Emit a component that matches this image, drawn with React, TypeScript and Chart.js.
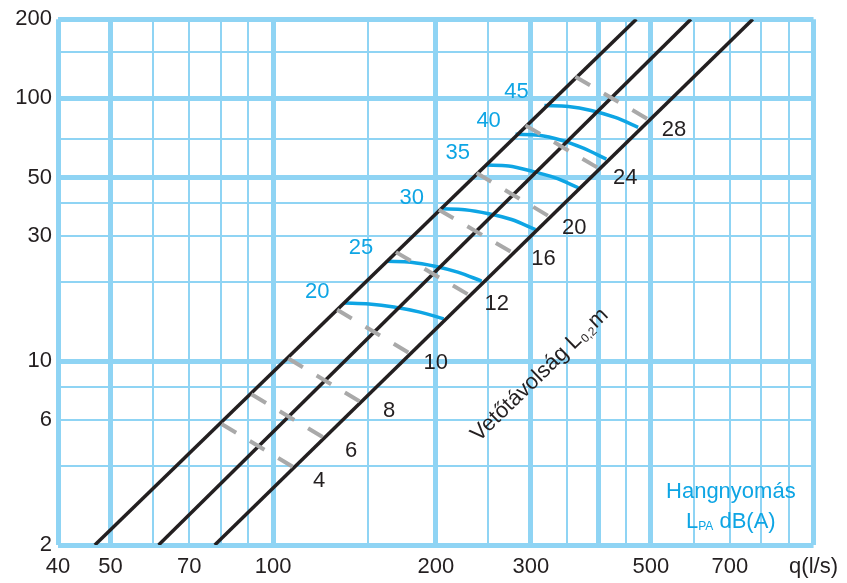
import React, { useEffect, useRef } from 'react';
import { Chart, registerables } from 'chart.js';
Chart.register(...registerables);

const FONT = "'Liberation Sans', Arial, Helvetica, sans-serif";
const TXT = '#231f20';
const BLUE = '#0ea5e4';
const GRID = '#8fd4f4';
const GRAY = '#a9a9a9';

// axes
const X_TICKS = [40, 50, 60, 70, 80, 90, 100, 150, 200, 250, 300, 350, 400, 450, 500, 600, 700, 800, 900, 1000];
const X_LABELS: Record<number, string> = { 40: '40', 50: '50', 70: '70', 100: '100', 200: '200', 300: '300', 500: '500', 700: '700', 1000: 'q(l/s)' };
const X_MAJOR = [40, 50, 100, 200, 300, 400, 500, 1000];
const Y_TICKS = [2, 4, 6, 8, 10, 20, 30, 40, 50, 70, 100, 150, 200];
const Y_LABELS = [2, 6, 10, 30, 50, 100, 200];
const Y_MAJOR = [2, 10, 50, 100, 200];

// black boundary lines (q, v) endpoints
const LINE_A = [{ x: 46.8, y: 2 }, { x: 470, y: 200 }];
const LINE_B = [{ x: 61.4, y: 2 }, { x: 593, y: 200 }];
const LINE_C = [{ x: 78, y: 2 }, { x: 772, y: 200 }];

// throw distance (gray dashed) lines
const DIST_LABELS = ['4', '6', '8', '10', '12', '16', '20', '24', '28'];
const DIST_START_Q = [80.3, 91.2, 106.7, 131.4, 168.8, 202.6, 238.0, 293.1, 362.5];
const DIST_START_V = [5.77, 7.49, 10.24, 15.7, 26.0, 37.7, 52.0, 78.9, 120.8];
const DIST_END_Q = [109.4, 124.3, 145.4, 179.1, 230.1, 276.2, 324.6, 399.6, 494.4];
const DIST_END_V = [3.94, 5.11, 6.99, 10.7, 17.9, 26.0, 35.5, 54.3, 83.2];
const DIST_LABEL_Q = [121.7, 139.4, 163.9, 200, 259.2, 316.4, 360.9, 448.1, 551.9];
const DIST_LABEL_V = [3.52, 4.57, 6.46, 9.81, 16.5, 24.4, 32.0, 49.8, 75.6];

// sound pressure arcs
const SPL_LABELS = ['20', '25', '30', '35', '40', '45'];
const ARC_20 = [[135.3, 16.67], [150.5, 16.52], [167.3, 16.09], [186.1, 15.41], [206.9, 14.5]];
const ARC_25 = [[162.4, 24.0], [179.9, 23.8], [199.2, 22.98], [219.6, 21.82], [243.2, 20.18]];
const ARC_30 = [[204.3, 38.0], [226.2, 37.7], [250.6, 36.4], [276.2, 34.6], [305.8, 31.7]];
const ARC_35 = [[247.3, 55.8], [272.7, 55.3], [300.7, 52.9], [332.9, 49.8], [367.1, 45.7]];
const ARC_40 = [[280.9, 73.0], [309.8, 72.4], [341.5, 69.3], [375.0, 64.6], [413.6, 58.7]];
const ARC_45 = [[317.7, 93.9], [351.8, 93.1], [387.9, 89.9], [429.6, 84.6], [473.6, 77.6]];
const SPL_LABEL_Q = [120.7, 145.4, 180.6, 219.6, 250.5, 282.1];
const SPL_LABEL_V = [18.3, 26.9, 41.9, 61.9, 81.7, 106.1];

// free texts anchors
const AXIS_TITLE_Q = 309.8;
const AXIS_TITLE_V = 8.99;
const LEGEND_Q = 703;
const LEGEND_V1 = 3.17;
const LEGEND_V2 = 2.49;

const ARCS = [ARC_20, ARC_25, ARC_30, ARC_35, ARC_40, ARC_45];

const textPlugin = {
  id: 'texts',
  afterDatasetsDraw(chart: any) {
    const { ctx } = chart;
    const xs = chart.scales.x;
    const ys = chart.scales.y;
    ctx.save();
    ctx.textAlign = 'center';
    ctx.textBaseline = 'middle';
    ctx.font = `22px ${FONT}`;
    ctx.fillStyle = TXT;
    DIST_LABELS.forEach((t, i) => {
      ctx.fillText(t, xs.getPixelForValue(DIST_LABEL_Q[i]), ys.getPixelForValue(DIST_LABEL_V[i]));
    });
    ctx.fillStyle = BLUE;
    SPL_LABELS.forEach((t, i) => {
      ctx.fillText(t, xs.getPixelForValue(SPL_LABEL_Q[i]), ys.getPixelForValue(SPL_LABEL_V[i]));
    });

    // rotated axis title
    const cx = xs.getPixelForValue(AXIS_TITLE_Q);
    const cy = ys.getPixelForValue(AXIS_TITLE_V);
    ctx.save();
    ctx.translate(cx, cy);
    ctx.rotate(-44 * Math.PI / 180);
    ctx.fillStyle = TXT;
    ctx.textAlign = 'left';
    ctx.textBaseline = 'alphabetic';
    const big = `22px ${FONT}`;
    const small = `12px ${FONT}`;
    const p1 = 'Vetőtávolság L';
    const p2 = '0,2';
    const p3 = 'm';
    ctx.font = big; const w1 = ctx.measureText(p1).width; const w3 = ctx.measureText(p3).width;
    ctx.font = small; const w2 = ctx.measureText(p2).width;
    let sx = -(w1 + w2 + 2 + w3) / 2;
    ctx.font = big; ctx.fillText(p1, sx, 8); sx += w1 + 1;
    ctx.font = small; ctx.fillText(p2, sx, 11); sx += w2 + 1;
    ctx.font = big; ctx.fillText(p3, sx, 8);
    ctx.restore();

    // legend text
    const lx = xs.getPixelForValue(LEGEND_Q);
    ctx.fillStyle = BLUE;
    ctx.textAlign = 'center';
    ctx.textBaseline = 'middle';
    ctx.font = big;
    ctx.fillText('Hangnyomás', lx, ys.getPixelForValue(LEGEND_V1));
    const a = 'L', b = 'PA', c = ' dB(A)';
    ctx.font = big; const wa = ctx.measureText(a).width; const wc = ctx.measureText(c).width;
    ctx.font = small; const wb = ctx.measureText(b).width;
    let px = lx - (wa + wb + wc) / 2;
    const py = ys.getPixelForValue(LEGEND_V2);
    ctx.textAlign = 'left';
    ctx.textBaseline = 'alphabetic';
    ctx.font = big; ctx.fillText(a, px, py + 8); px += wa;
    ctx.font = small; ctx.fillText(b, px, py + 10); px += wb;
    ctx.font = big; ctx.fillText(c, px, py + 8);
    ctx.restore();
  },
};

export default function App() {
  const ref = useRef<HTMLCanvasElement>(null);
  useEffect(() => {
    const canvas = ref.current!;
    const datasets: any[] = [];
    DIST_LABELS.forEach((_, i) => {
      datasets.push({
        data: [{ x: DIST_START_Q[i], y: DIST_START_V[i] }, { x: DIST_END_Q[i], y: DIST_END_V[i] }],
        borderColor: GRAY, borderWidth: 4, borderDash: [17, 16], borderCapStyle: 'butt',
        showLine: true, pointRadius: 0, fill: false,
      });
    });
    [LINE_A, LINE_B, LINE_C].forEach((d) => {
      datasets.push({ data: d, borderColor: TXT, borderWidth: 3.5, showLine: true, pointRadius: 0, fill: false });
    });
    ARCS.forEach((arc) => {
      datasets.push({
        data: arc.map(([x, y]) => ({ x, y })), borderColor: BLUE, borderWidth: 3.5,
        showLine: true, pointRadius: 0, fill: false, tension: 0.4, cubicInterpolationMode: 'monotone',
      });
    });
    const chart = new Chart(canvas, {
      type: 'scatter',
      data: { datasets },
      plugins: [textPlugin],
      options: {
        animation: false,
        responsive: false,
        devicePixelRatio: 1,
        layout: { padding: { left: 0, right: 31, top: 15, bottom: 0 } },
        plugins: { legend: { display: false }, tooltip: { enabled: false } },
        scales: {
          x: {
            type: 'logarithmic', min: 40, max: 1000,
            afterBuildTicks: (s: any) => { s.ticks = X_TICKS.map((v) => ({ value: v })); },
            afterFit: (s: any) => { s.height = 38; },
            border: { display: false },
            grid: {
              color: GRID, drawTicks: false,
              lineWidth: (c: any) => (c.tick && X_MAJOR.includes(c.tick.value) ? 5 : 2),
            },
            ticks: {
              autoSkip: false, maxRotation: 0, minRotation: 0, padding: 9, color: TXT,
              font: { family: FONT, size: 22 },
              callback: (v: any) => X_LABELS[Number(v)] ?? '',
            },
          },
          y: {
            type: 'logarithmic', min: 2, max: 200,
            afterBuildTicks: (s: any) => { s.ticks = Y_TICKS.map((v) => ({ value: v })); },
            afterFit: (s: any) => { s.width = 58; },
            border: { display: false },
            grid: {
              color: GRID, drawTicks: false,
              lineWidth: (c: any) => (c.tick && Y_MAJOR.includes(c.tick.value) ? 5 : 2),
            },
            ticks: {
              autoSkip: false, padding: 6, color: TXT,
              font: { family: FONT, size: 22 },
              callback: (v: any) => (Y_LABELS.includes(Number(v)) ? String(v) : ''),
            },
          },
        },
      },
    });
    return () => chart.destroy();
  }, []);
  return (
    <div style={{ position: 'fixed', left: 0, top: 0, width: 847, height: 583, background: '#fff' }}>
      <canvas ref={ref} width={847} height={583} style={{ display: 'block' }} />
    </div>
  );
}
